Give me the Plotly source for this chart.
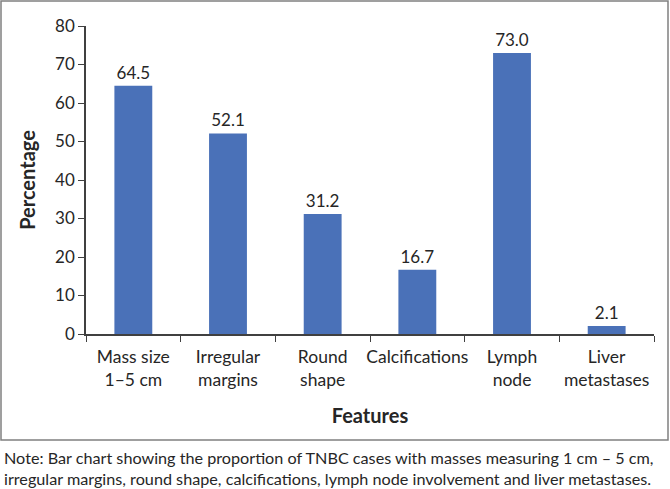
import plotly.graph_objects as go

categories = ["Mass size<br>1–5 cm", "Irregular<br>margins", "Round<br>shape",
              "Calcifications", "Lymph<br>node", "Liver<br>metastases"]
values = [64.5, 52.1, 31.2, 16.7, 73.0, 2.1]
labels = ["64.5", "52.1", "31.2", "16.7", "73.0", "2.1"]
y_ticks = [0, 10, 20, 30, 40, 50, 60, 70, 80]
note = ("Note: Bar chart showing the proportion of TNBC cases with masses measuring 1 cm – 5 cm,<br>"
        "irregular margins, round shape, calcifications, lymph node involvement and liver metastases.")

FONT = "Lato"
TXT = "#262626"

fig = go.Figure(go.Bar(
    x=categories, y=values, text=labels, textposition="outside",
    textfont=dict(family=FONT, size=17, color=TXT),
    marker=dict(color="#4A71B8", line=dict(width=0)),
    width=0.4, cliponaxis=False,
))

W, H = 670, 489
L, R, T, B = 86, 16, 26, 155
pw, ph = W - L - R, H - T - B

def px(x):
    return (x - L) / pw

def py(y):
    return (H - B - y) / ph

fig.update_layout(
    width=W, height=H,
    margin=dict(l=L, r=R, t=T, b=B, autoexpand=False),
    paper_bgcolor="white", plot_bgcolor="white",
    showlegend=False,
    font=dict(family=FONT, size=17, color=TXT),
    xaxis=dict(
        showline=True, linecolor="#404040", linewidth=1.5,
        ticks="outside", tickson="boundaries", ticklen=6, tickcolor="#404040",
        tickangle=0, automargin=False, ticklabelstandoff=6,
        tickfont=dict(family=FONT, size=17.5, color=TXT),
        title=dict(text="<b>Features</b>", font=dict(family=FONT, size=20, color=TXT), standoff=20),
    ),
    yaxis=dict(
        range=[0, 80], tickvals=y_ticks, showgrid=False, zeroline=False,
        showline=True, linecolor="#404040", linewidth=1.5,
        ticks="outside", ticklen=6, tickcolor="#404040", automargin=False,
        tickfont=dict(family=FONT, size=17, color=TXT),
        title=dict(text="<b>Percentage</b>", font=dict(family=FONT, size=20, color=TXT), standoff=14),
    ),
    shapes=[dict(type="rect", xref="paper", yref="paper",
                 x0=px(1), x1=px(668), y0=py(1), y1=py(440),
                 line=dict(color="#808080", width=1.5), fillcolor="rgba(0,0,0,0)", layer="below")],
    annotations=[dict(text=note, xref="paper", yref="paper", x=px(2), y=py(446),
                      xanchor="left", yanchor="top", showarrow=False, align="left",
                      font=dict(family=FONT, size=16.2, color=TXT))],
)

fig.write_html("out.html")
